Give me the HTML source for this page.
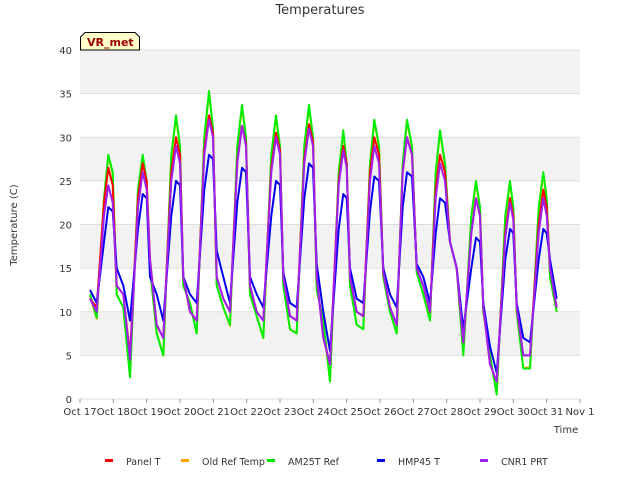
<!DOCTYPE html>
<html><head><meta charset="utf-8"><style>
body{margin:0;background:#fff;font-family:"Liberation Sans","DejaVu Sans",sans-serif;}
svg text{font-family:"DejaVu Sans","Liberation Sans",sans-serif;}
</style></head><body>
<svg id="chart" width="640" height="480" xmlns="http://www.w3.org/2000/svg">
<text x="320" y="14" text-anchor="middle" font-size="13" fill="#333">Temperatures</text>
<g id="bands"></g><g id="grid"></g><g id="series"></g><g id="axes"></g>
<g>
<path d="M80.5,50 L80.5,37 L85,32.5 L135,32.5 L139.5,37 L139.5,50 Z" fill="#ffffcc" stroke="#000" stroke-width="1"/>
<text x="87" y="46" font-size="11" font-weight="bold" fill="#990000">VR_met</text>
</g>
<text transform="translate(17,225) rotate(-90)" text-anchor="middle" font-size="10" fill="#333">Temperature (C)</text>
<text x="566" y="433" text-anchor="middle" font-size="10" fill="#333">Time</text>
<g id="legend"></g>
</svg>
<script>
const yTicks=[0,5,10,15,20,25,30,35,40];
const xTickLabels=["Oct 17","Oct 18","Oct 19","Oct 20","Oct 21","Oct 22","Oct 23","Oct 24","Oct 25","Oct 26","Oct 27","Oct 28","Oct 29","Oct 30","Oct 31","Nov 1"];
const times=[0.3,0.5,
0.72,0.85,0.98,1.1,1.3,1.5,
1.74,1.88,2.0,2.1,2.3,2.5,
2.74,2.88,3.0,3.1,3.3,3.5,
3.73,3.87,3.99,4.1,4.3,4.5,
4.72,4.86,4.98,5.1,5.3,5.5,
5.74,5.88,6.0,6.1,6.3,6.5,
6.73,6.87,6.99,7.1,7.3,7.5,
7.76,7.9,8.0,8.1,8.3,8.5,
8.7,8.83,8.97,9.1,9.3,9.5,
9.68,9.81,9.96,10.1,10.3,10.5,
10.67,10.8,10.95,11.1,11.3,11.5,
11.74,11.88,12.0,12.1,12.3,12.5,
12.76,12.9,13.0,13.1,13.3,13.5,
13.76,13.9,14.0,14.1,14.3];
const am25t=[12,9.3,
23,28,26,12,10.5,2.5,
24,28,25,15,7.5,5,
28,32.5,29,13,11,7.5,
30,35.3,31,13,10.5,8.5,
29,33.7,30,12,9.5,7,
28,32.5,29,13,8,7.5,
29,33.7,30,12.5,9,2,
26,30.8,27,13,8.5,8,
27,32,29,14,10,7.5,
27,32,29,14.5,12,9,
26,30.8,27,18,15,5,
21,25,22,10,5,0.5,
21,25,22,10,3.5,3.5,
22,26,23,14,10];
const oldRef=[11.8,9.2,
22.8,27.8,25.8,12,10.5,2.6,
23.8,27.8,24.8,15,7.6,5,
27.8,32.3,28.8,13,11,7.6,
29.8,35.1,30.8,13,10.5,8.4,
28.8,33.5,29.8,12,9.5,7,
27.8,32.3,28.8,13,8,7.6,
28.8,33.5,29.8,12.5,9,2.1,
25.8,30.6,26.8,13,8.5,8,
26.8,31.8,28.8,14,10,7.6,
26.8,31.8,28.8,14.5,12,9,
25.8,30.6,26.8,18,15,5.1,
20.8,24.8,21.8,10,5,0.6,
20.8,24.8,21.8,10,3.6,3.6,
21.8,25.8,22.8,14,10];
const panelT=[11.5,10.5,
22.5,26.5,24.5,13,12,5,
23,27,25,16,8.5,7,
26,30,28,14,10,9,
28.5,32.5,30.5,14,11.5,10,
27.3,31.3,29.3,13,10,9,
26.5,30.5,28.5,14,9.5,9,
27.5,31.5,29.5,14,7,4,
25,29,27,14,10,9.5,
26,30,28,14.5,10.5,8.5,
26,30,28,15,13,10,
24,28,26,18,15,6.5,
19,23,21,10.5,4,2,
19,23,21,10.5,5,5,
20,24,22,15,10.5];
const hmp45=[12.5,11,
18,22,21.5,15,13,9,
19.5,23.5,23,14,12,9,
21,25,24.5,14,12,11,
24,28,27.5,17,14,11,
22.5,26.5,26,14,12,10.5,
21,25,24.5,14.5,11,10.5,
23,27,26.5,15.5,10,5.5,
19.5,23.5,23,15,11.5,11,
21.5,25.5,25,15,12,10.5,
22,26,25.5,15.5,14,11,
19,23,22.5,18,15,8,
15,18.5,18,11,6,3,
16,19.5,19,11,7,6.5,
16,19.5,19,16,11.5];
const cnr1=[11.5,10,
21,24.5,22.5,13,12,4.5,
22,26,24,16,8.5,7,
25,29,27,14,10,9,
28,32,30,14,11.5,10,
27,31.3,29,13,10,9,
26,30,28,14,9.5,9,
27,31,29,14,7,4,
24.5,28.5,26.5,14,10,9.5,
25,29,27,14.5,10.5,8.5,
26,30,28,15,13,10,
23,27,25,18,15,6.5,
19,23,21,10.5,4,2,
18.5,22.5,20.5,10.5,5,5,
19,23,21,15,10.5];
const seriesNames=["Panel T","Old Ref Temp","AM25T Ref","HMP45 T","CNR1 PRT"];
const seriesColors=["#ff0000","#ffa500","#00ee00","#0000ee","#a020f0"];
const seriesVals=[panelT,oldRef,am25t,hmp45,cnr1];
const drawOrder=[1,2,0,3,4];

const NS="http://www.w3.org/2000/svg";
const X0=80,X1=580,Y0=399,Y1=50;
const xs=d=>X0+d*(X1-X0)/15;
const ys=v=>Y0-v*(Y0-Y1)/40;
function mk(tag,attrs,parent){const e=document.createElementNS(NS,tag);for(const k in attrs)e.setAttribute(k,attrs[k]);parent.appendChild(e);return e;}
const bands=document.getElementById('bands'),grid=document.getElementById('grid'),axes=document.getElementById('axes'),series=document.getElementById('series'),legend=document.getElementById('legend');
mk('rect',{x:X0,y:Y1,width:X1-X0,height:Y0-Y1,fill:'#fff'},bands);
for(let i=0;i<yTicks.length-1;i++){
  if(i%2===1){const b=mk('rect',{x:X0,y:ys(yTicks[i+1]),width:X1-X0,height:ys(yTicks[i])-ys(yTicks[i+1]),fill:'#f2f2f2'},bands);
  
  }
}
yTicks.forEach(v=>{
  const l=mk('line',{x1:X0,x2:X1,y1:ys(v),y2:ys(v),stroke:'#dddddd','stroke-width':1},grid);
  
  
  const t=mk('text',{x:X0-8,y:ys(v)+4,'text-anchor':'end','font-size':10,fill:'#333'},axes);
  t.textContent=v;
  
  
});
xTickLabels.forEach((s,i)=>{
  const t=mk('text',{x:xs(i),y:415,'text-anchor':'middle','font-size':10,fill:'#333'},axes);
  t.textContent=s;
  
  
  mk('line',{x1:xs(i),x2:xs(i),y1:Y0,y2:Y0+4,stroke:'#999'},axes);
});
drawOrder.forEach(si=>{
  const vals=seriesVals[si];
  const pts=times.map((t,i)=>xs(t).toFixed(1)+','+ys(vals[i]).toFixed(1)).join(' ');
  const p=mk('polyline',{points:pts,fill:'none',stroke:seriesColors[si],'stroke-width':2,'stroke-linejoin':'round'},series);
  
  
});
const legX=[107,183,269,379,482];
seriesNames.forEach((n,i)=>{
  const g=mk('g',{},legend);
  
  
  mk('rect',{x:legX[i]-2,y:459,width:8,height:3,fill:seriesColors[i]},g);
  const t=mk('text',{x:legX[i]+19,y:465,'font-size':9.5,fill:'#333'},g);
  t.textContent=n;
});
</script>
</body></html>
